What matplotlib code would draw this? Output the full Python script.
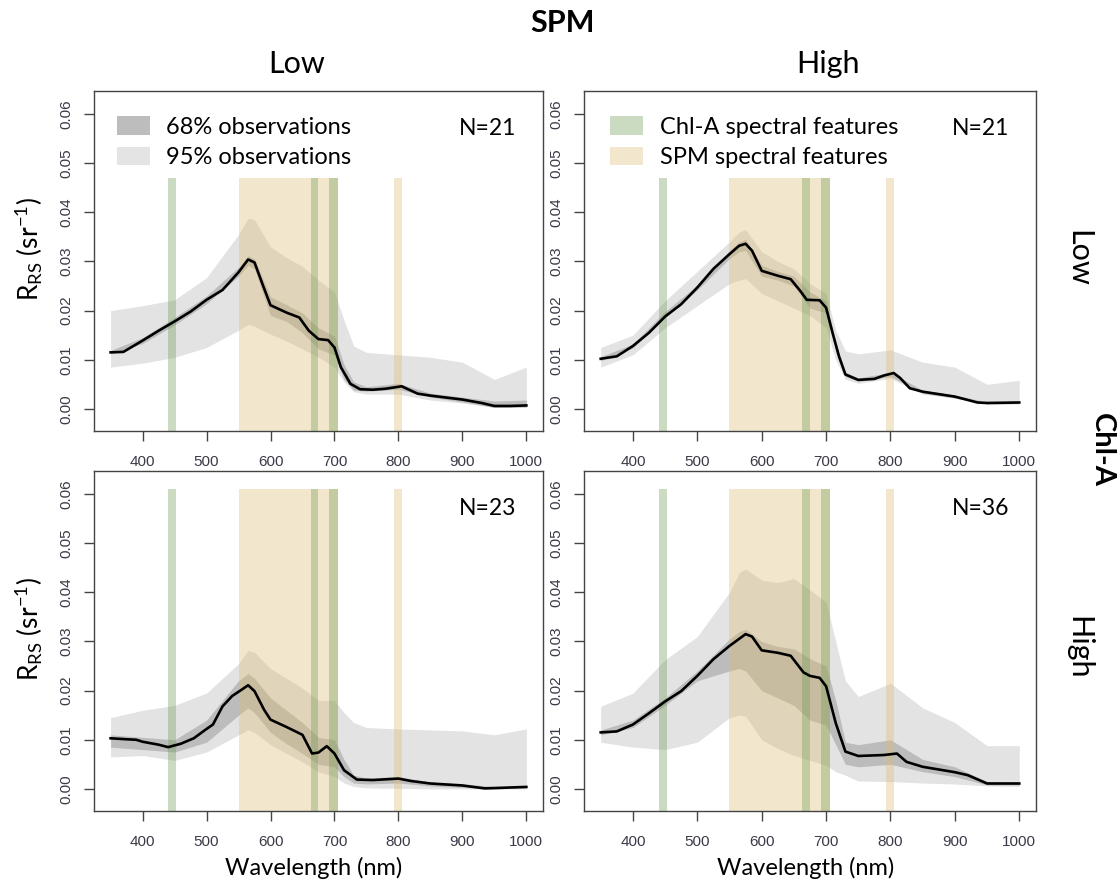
import numpy as np
import matplotlib
matplotlib.use('Agg')
import matplotlib.pyplot as plt
from matplotlib.patches import Patch

plt.rcParams['font.family'] = ['Lato', 'DejaVu Sans']
plt.rcParams['mathtext.default'] = 'regular'

# spectral feature windows (nm)
chl_bands = [(440, 453), (663, 675), (692, 706)]
spm_bands = [(550, 706), (793, 805)]

# common wavelength grid for the 68% / 95% envelopes
band_wl = [350, 400, 450, 500, 550, 565, 575, 600, 625, 650, 675, 700, 715, 730, 750, 800, 850, 900, 950, 1000]

# Chl-A low, SPM low
wl_ll = [350, 370, 400, 425, 450, 475, 500, 525, 550, 565, 575, 590, 600, 625, 645, 660, 675, 690, 700, 710,
         725, 740, 760, 780, 805, 815, 830, 850, 900, 930, 950, 975, 1000]
med_ll = [.0115, .0116, .0139, .0159, .0178, .0198, .0222, .0242, .0278, .0304, .0298, .0245, .0211, .0196, .0186,
          .0159, .0142, .0140, .0125, .0085, .0051, .0040, .0039, .0041, .0046, .0040, .0031, .0027, .0019, .0012,
          .0006, .0006, .0007]
hi95_ll = [.0200, .0210, .0222, .0267, .0355, .0388, .0385, .0330, .0308, .0290, .0262, .0238, .0180, .0128, .0115,
           .0110, .0105, .0095, .0060, .0085]
lo95_ll = [.0085, .0093, .0105, .0125, .0160, .0172, .0168, .0152, .0138, .0122, .0105, .0085, .0055, .0035, .0030,
           .0030, .0018, .0012, .0003, .0003]
hi68_ll = [.0119, .0145, .0186, .0230, .0288, .0312, .0305, .0228, .0212, .0195, .0165, .0148, .0090, .0055, .0045,
           .0052, .0032, .0024, .0016, .0018]
lo68_ll = [.0112, .0133, .0171, .0214, .0270, .0292, .0285, .0190, .0178, .0155, .0122, .0110, .0060, .0038, .0036,
           .0040, .0024, .0014, .0003, .0004]

# Chl-A low, SPM high
wl_lh = [350, 375, 400, 425, 450, 475, 500, 525, 550, 565, 575, 585, 600, 625, 645, 660, 670, 690, 700, 710, 720,
         730, 750, 775, 790, 805, 815, 830, 850, 900, 935, 950, 1000]
med_lh = [.0102, .0107, .0128, .0155, .0188, .0213, .0247, .0285, .0315, .0332, .0336, .0322, .0281, .0271, .0264,
          .0240, .0222, .0221, .0206, .0155, .0107, .0070, .0059, .0061, .0068, .0073, .0063, .0042, .0035, .0025,
          .0013, .0012, .0013]
hi95_lh = [.0125, .0150, .0220, .0280, .0340, .0360, .0365, .0320, .0300, .0285, .0255, .0235, .0160, .0118, .0112,
           .0120, .0095, .0085, .0050, .0058]
lo95_lh = [.0085, .0110, .0165, .0210, .0255, .0262, .0265, .0235, .0220, .0205, .0190, .0165, .0100, .0060, .0052,
           .0062, .0030, .0022, .0010, .0010]
hi68_lh = [.0106, .0132, .0198, .0252, .0322, .0340, .0345, .0292, .0280, .0270, .0238, .0220, .0135, .0075, .0063,
           .0074, .0038, .0028, .0014, .0015]
lo68_lh = [.0098, .0124, .0186, .0242, .0306, .0320, .0322, .0270, .0262, .0250, .0205, .0195, .0118, .0066, .0056,
           .0066, .0032, .0022, .0010, .0011]

# Chl-A high, SPM low
wl_hl = [350, 375, 390, 400, 425, 440, 460, 480, 500, 510, 525, 540, 555, 565, 575, 590, 600, 625, 650, 665, 675,
         688, 700, 715, 735, 760, 800, 820, 850, 900, 935, 1000]
med_hl = [.0103, .0101, .0100, .0096, .0090, .0085, .0092, .0103, .0122, .0131, .0168, .0189, .0202, .0211, .0199,
          .0161, .0141, .0126, .0110, .0072, .0074, .0087, .0072, .0038, .0019, .0018, .0021, .0016, .0011, .0007,
          .0001, .0004]
hi95_hl = [.0145, .0160, .0170, .0195, .0255, .0282, .0278, .0245, .0225, .0205, .0180, .0180, .0155, .0135, .0125,
           .0122, .0120, .0118, .0110, .0122]
lo95_hl = [.0065, .0068, .0058, .0075, .0110, .0120, .0115, .0090, .0072, .0055, .0035, .0025, .0012, .0005, .0002,
           .0001, .0000, .0000, .0000, .0000]
hi68_hl = [.0110, .0105, .0100, .0140, .0220, .0235, .0225, .0185, .0160, .0135, .0105, .0100, .0060, .0028, .0022,
           .0025, .0014, .0010, .0005, .0006]
lo68_hl = [.0085, .0080, .0075, .0095, .0150, .0165, .0155, .0115, .0092, .0072, .0050, .0045, .0025, .0012, .0010,
           .0012, .0006, .0003, .0000, .0002]

# Chl-A high, SPM high
wl_hh = [350, 375, 400, 425, 450, 475, 500, 525, 550, 575, 585, 600, 625, 645, 665, 675, 690, 700, 715, 730, 750,
         790, 810, 825, 850, 900, 920, 950, 1000]
med_hh = [.0115, .0117, .0131, .0154, .0178, .0199, .0230, .0264, .0291, .0315, .0310, .0282, .0277, .0271, .0237,
          .0230, .0226, .0209, .0134, .0076, .0067, .0069, .0072, .0055, .0045, .0034, .0028, .0011, .0011]
hi95_hh = [.0168, .0195, .0263, .0310, .0400, .0440, .0448, .0425, .0420, .0428, .0405, .0380, .0300, .0220, .0188,
           .0215, .0165, .0135, .0088, .0088]
lo95_hh = [.0095, .0085, .0080, .0095, .0145, .0150, .0148, .0100, .0082, .0068, .0058, .0048, .0035, .0028, .0016,
           .0015, .0012, .0010, .0006, .0005]
hi68_hh = [.0120, .0140, .0185, .0240, .0305, .0320, .0325, .0300, .0290, .0285, .0265, .0250, .0180, .0095, .0090,
           .0100, .0060, .0045, .0015, .0013]
lo68_hh = [.0110, .0125, .0170, .0220, .0240, .0245, .0240, .0200, .0185, .0170, .0140, .0130, .0090, .0050, .0045,
           .0050, .0035, .0025, .0008, .0008]

n_obs = {'ll': 21, 'lh': 21, 'hl': 23, 'hh': 36}

green = '#6a9a50'
tan = '#dcbd6e'
band_alpha = 0.35
YLIM = (-0.0045, 0.0647)
tick_color = '#3a3a48'


def draw_panel(ax, wl, med, lo95, hi95, lo68, hi68, n, band_top, bottom_row):
    ax.fill_between(band_wl, lo95, hi95, color='#e3e3e3', lw=0)
    ax.fill_between(band_wl, lo68, hi68, color='#bcbcbc', lw=0)
    frac = (band_top - YLIM[0]) / (YLIM[1] - YLIM[0])
    for lo, hi in spm_bands:
        ax.axvspan(lo, hi, ymin=0, ymax=frac, color=tan, alpha=band_alpha, lw=0)
    for lo, hi in chl_bands:
        ax.axvspan(lo, hi, ymin=0, ymax=frac, color=green, alpha=band_alpha, lw=0)
    ax.plot(wl, med, color='black', lw=1.9)

    ax.set_xlim(324, 1026)
    ax.set_ylim(*YLIM)
    ax.set_xticks(np.arange(400, 1001, 100))
    ax.set_yticks(np.arange(0, 0.061, 0.01))
    ax.set_yticklabels(['%.2f' % v for v in np.arange(0, 0.061, 0.01)])
    ax.tick_params(direction='out', length=7, width=1, color='#444444', labelcolor=tick_color,
                   labelsize=11, labelfontfamily='Liberation Sans')
    ax.tick_params(axis='x', pad=10)
    ax.tick_params(axis='y', pad=8, labelrotation=90)
    for lbl in ax.get_yticklabels():
        lbl.set_va('center')
    for sp in ax.spines.values():
        sp.set_color('#444444')
        sp.set_linewidth(1.0)
    ax.text(0.94, 0.89, 'N=%d' % n, transform=ax.transAxes, ha='right', va='center', fontsize=16.5)
    if bottom_row:
        ax.set_xlabel('Wavelength (nm)', fontsize=17)
        ax.xaxis.set_label_coords(0.49, -0.135)


fig = plt.figure(figsize=(11.2, 8.85), dpi=100)
ax_ll = fig.add_axes([0.0839, 0.5130, 0.4009, 0.3842])
ax_lh = fig.add_axes([0.5214, 0.5130, 0.4036, 0.3842])
ax_hl = fig.add_axes([0.0839, 0.0836, 0.4009, 0.3842])
ax_hh = fig.add_axes([0.5214, 0.0836, 0.4036, 0.3842])

draw_panel(ax_ll, wl_ll, med_ll, lo95_ll, hi95_ll, lo68_ll, hi68_ll, n_obs['ll'], 0.047, False)
draw_panel(ax_lh, wl_lh, med_lh, lo95_lh, hi95_lh, lo68_lh, hi68_lh, n_obs['lh'], 0.047, False)
draw_panel(ax_hl, wl_hl, med_hl, lo95_hl, hi95_hl, lo68_hl, hi68_hl, n_obs['hl'], 0.061, True)
draw_panel(ax_hh, wl_hh, med_hh, lo95_hh, hi95_hh, lo68_hh, hi68_hh, n_obs['hh'], 0.061, True)

for ax in (ax_ll, ax_hl):
    ax.set_ylabel('R$_{RS}$ (sr$^{-1}$)', fontsize=19)
    ax.yaxis.set_label_coords(-0.108, 0.535)

# legends
h1 = [Patch(facecolor='#bdbdbd', lw=0), Patch(facecolor='#e4e4e4', lw=0)]
ax_ll.legend(h1, ['68% observations', '95% observations'], loc='upper left', bbox_to_anchor=(0.051, 0.925),
             frameon=False, fontsize=17, handlelength=1.4, handleheight=0.8, handletextpad=0.7,
             labelspacing=0.4, borderpad=0, borderaxespad=0)
h2 = [Patch(facecolor=green, alpha=band_alpha, lw=0), Patch(facecolor=tan, alpha=band_alpha, lw=0)]
ax_lh.legend(h2, ['Chl-A spectral features', 'SPM spectral features'], loc='upper left',
             bbox_to_anchor=(0.058, 0.925), frameon=False, fontsize=17, handlelength=1.4, handleheight=0.8,
             handletextpad=0.7, labelspacing=0.4, borderpad=0, borderaxespad=0)

# outer labels
fig.text(0.502, 0.974, 'SPM', ha='center', va='center', fontsize=22, fontweight='bold')
fig.text(297 / 1120, 1 - 64 / 885, 'Low', ha='center', va='center', fontsize=22)
fig.text(828 / 1120, 1 - 64 / 885, 'High', ha='center', va='center', fontsize=22)
fig.text(1078 / 1120, 1 - 258 / 885, 'Low', ha='center', va='center', fontsize=22, rotation=-90)
fig.text(1078 / 1120, 1 - 648 / 885, 'High', ha='center', va='center', fontsize=22, rotation=-90)
fig.text(1102 / 1120, 1 - 450 / 885, 'Chl-A', ha='center', va='center', fontsize=21, fontweight='bold',
         rotation=-90)

fig.savefig('out.png', dpi=100)
